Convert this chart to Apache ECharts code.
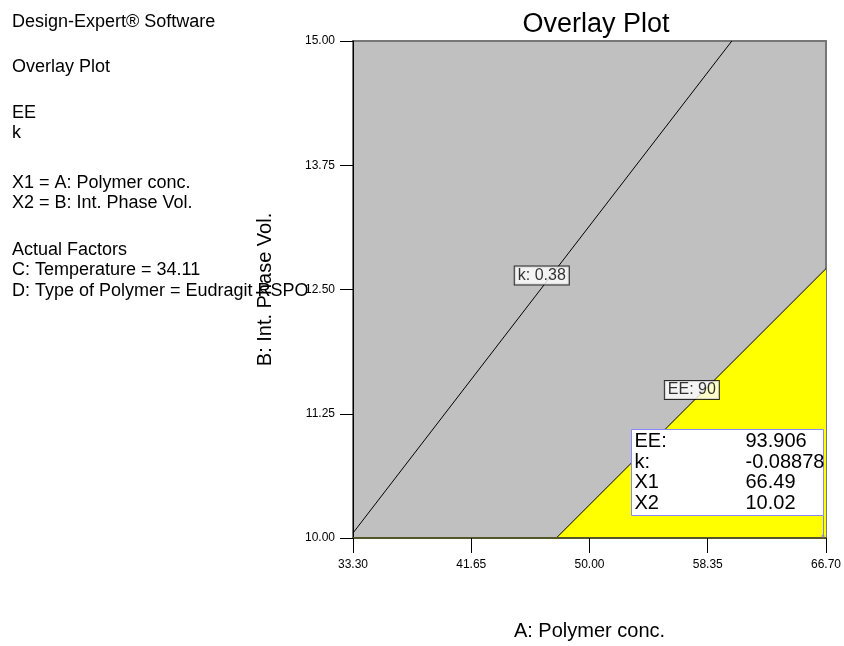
<!DOCTYPE html>
<html><head><meta charset="utf-8">
<script src="https://cdn.jsdelivr.net/npm/echarts@6/dist/echarts.min.js"></script>
<style>html,body{margin:0;padding:0;background:#fff}#c{width:844px;height:646px}</style>
</head><body><div id="c"></div>
<script>
// ---- data ----
const xTicks = [33.30, 41.65, 50.00, 58.35, 66.70];
const yTicks = [10.00, 11.25, 12.50, 13.75, 15.00];
const kContour = [[33.30, 10.05], [60.05, 15.00]];
const eeContour = [[47.66, 10.00], [66.70, 12.71]];
const contourLabelText = ['k: 0.38', 'EE: 90'];
const contourLabelAt = [[46.63, 12.64], [57.23, 11.49]];
const flagPoint = [66.49, 10.02];
const flagNames = ['EE:', 'k:', 'X1', 'X2'];
const flagValues = ['93.906', '-0.08878', '66.49', '10.02'];
const sideGroups = [
  ['Design-Expert\u00AE Software'],
  ['Overlay Plot'],
  ['EE', 'k'],
  ['X1 = A: Polymer conc.', 'X2 = B: Int. Phase Vol.'],
  ['Actual Factors', 'C: Temperature = 34.11', 'D: Type of Polymer = Eudragit RSPO']
];

// ---- chart ----
const FONT = '"Liberation Sans", Arial, sans-serif';
const chart = echarts.init(document.getElementById('c'), null, {renderer: 'canvas'});
const fmt = v => Number(v).toFixed(2);

chart.setOption({
  animation: false,
  textStyle: {fontFamily: FONT},
  title: {
    text: 'Overlay Plot', left: 591, top: 6, textAlign: 'center',
    textStyle: {fontSize: 27, fontWeight: 'normal', color: '#000', fontFamily: FONT}
  },
  grid: {
    left: 353, top: 41, width: 476, height: 498,
    show: true, backgroundColor: '#c0c0c0', borderColor: '#777777', borderWidth: 2
  },
  xAxis: {
    type: 'value', min: 33.3, max: 66.7, z: 5,
    name: 'A: Polymer conc.', nameLocation: 'middle', nameGap: 83,
    nameTextStyle: {fontSize: 20, color: '#000', fontFamily: FONT},
    axisLine: {show: true, onZero: false, lineStyle: {color: '#55552a', width: 2}},
    axisTick: {show: true, inside: false, length: 15, customValues: xTicks, lineStyle: {color: '#000', width: 1}},
    axisLabel: {customValues: xTicks, formatter: fmt, margin: 21, fontSize: 12, color: '#000', fontFamily: FONT, showMinLabel: true, showMaxLabel: true},
    splitLine: {show: false}
  },
  yAxis: {
    type: 'value', min: 10, max: 15, interval: 1.25, z: 5,
    name: 'B: Int. Phase Vol.', nameLocation: 'middle', nameRotate: 90, nameGap: 78,
    nameTextStyle: {fontSize: 20, color: '#000', fontFamily: FONT},
    axisLine: {show: true, onZero: false, lineStyle: {color: '#000', width: 1}},
    axisTick: {show: true, inside: false, length: 13, customValues: yTicks, lineStyle: {color: '#000', width: 1}},
    axisLabel: {customValues: yTicks, formatter: fmt, margin: 18, fontSize: 12, color: '#000', fontFamily: FONT},
    splitLine: {show: false}
  },
  series: [
    {
      type: 'line', data: eeContour, symbol: 'none', z: 2,
      lineStyle: {color: '#000', width: 1},
      areaStyle: {color: '#ffff00', opacity: 1}
    },
    {
      type: 'line', data: kContour, symbol: 'none', z: 2,
      lineStyle: {color: '#000', width: 1}
    },
    {
      type: 'scatter', symbolSize: 0, z: 4,
      data: contourLabelAt.map((v, i) => ({value: v, name: contourLabelText[i]})),
      label: {
        show: true, position: 'inside', formatter: '{b}', fontSize: 16, color: '#000', fontFamily: FONT,
        backgroundColor: '#fff', borderColor: '#000', borderWidth: 1, padding: [2, 3, 0, 3]
      }
    },
    {
      type: 'scatter', data: [flagPoint], symbol: 'circle', symbolSize: 3, z: 6,
      itemStyle: {color: '#7f7fff'}
    }
  ]
});

// ---- annotation box (flag) anchored to the flag point ----
const p = chart.convertToPixel({gridIndex: 0}, flagPoint);
const boxW = 192, boxH = 86, gap = 21, rowH = 20.5;
const bx = Math.round(p[0] - boxW) + 0.5, by = Math.round(p[1] - gap - boxH) + 0.5;
const graphics = [
  {type: 'line', z: 100, shape: {x1: bx + boxW, y1: by + boxH, x2: bx + boxW, y2: p[1]}, style: {stroke: '#7f7fff', lineWidth: 1}},
  {type: 'rect', z: 100, shape: {x: bx, y: by, width: boxW, height: boxH}, style: {fill: '#fff', stroke: '#8888ff', lineWidth: 1}}
];
flagNames.forEach((n, i) => {
  graphics.push({type: 'text', z: 101, x: bx + 3, y: by + 12 + i * rowH,
    style: {text: n, font: '20px ' + FONT, fill: '#000', textVerticalAlign: 'middle'}});
  graphics.push({type: 'text', z: 101, x: bx + 114, y: by + 12 + i * rowH,
    style: {text: flagValues[i], font: '20px ' + FONT, fill: '#000', textVerticalAlign: 'middle'}});
});

// ---- left-hand description text ----
const groupTop = [21.7, 66.7, 112.7, 182.7, 250];
const lineStep = 20.5;
sideGroups.forEach((g, gi) => {
  g.forEach((t, li) => {
    graphics.push({type: 'text', z: 1, x: 12, y: groupTop[gi] + li * lineStep,
      style: {text: t, font: '18px ' + FONT, fill: '#000', textVerticalAlign: 'middle'}});
  });
});
chart.setOption({graphic: graphics});
</script>
</body></html>
